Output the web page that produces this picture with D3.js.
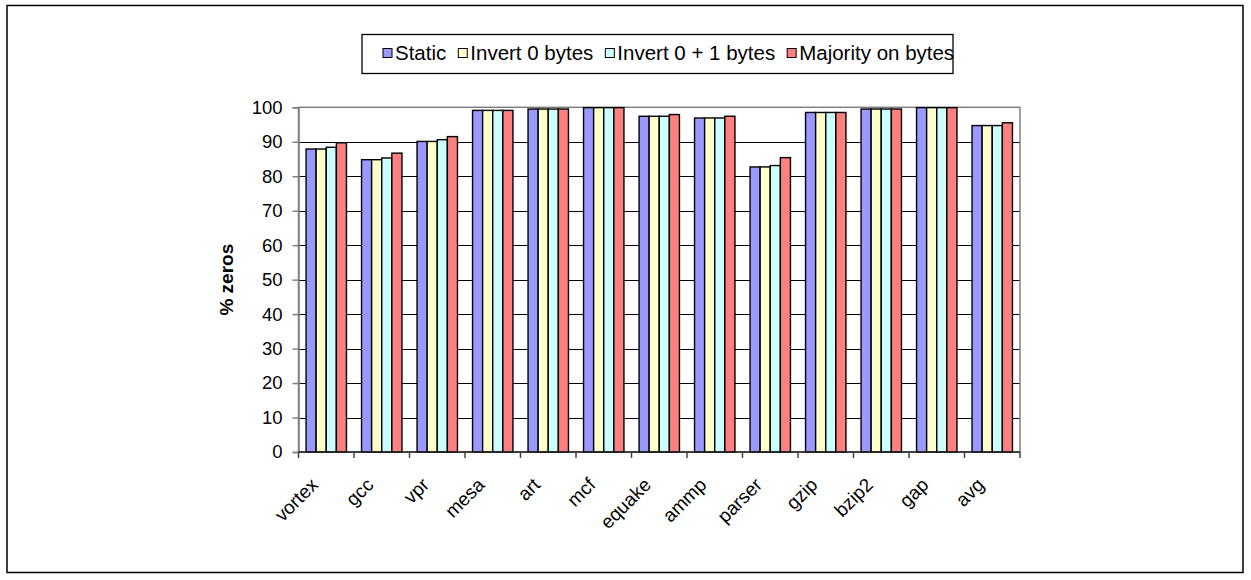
<!DOCTYPE html>
<html>
<head>
<meta charset="utf-8">
<script src="https://cdn.jsdelivr.net/npm/d3@7"></script>
<style>
  html, body { margin: 0; padding: 0; background: #fff; }
  svg { display: block; font-family: "Liberation Sans", Arial, sans-serif; }
</style>
</head>
<body>
<svg id="chart" width="1251" height="580"></svg>
<script>
// Benchmarks on the x axis
const categories = ["vortex", "gcc", "vpr", "mesa", "art", "mcf", "equake", "ammp", "parser", "gzip", "bzip2", "gap", "avg"];

// Series names (legend order)
const seriesNames = ["Static", "Invert 0 bytes", "Invert 0 + 1 bytes", "Majority on bytes"];

// Percentage of zero bits per benchmark, one array per encoding scheme
const staticVals   = [87.9, 84.8, 90.1, 99.1, 99.5, 99.9, 97.4, 96.9, 82.7, 98.5, 99.5, 99.9, 94.7];
const invert0Vals  = [87.9, 84.8, 90.1, 99.1, 99.5, 99.9, 97.4, 96.9, 82.7, 98.5, 99.5, 99.9, 94.7];
const invert01Vals = [88.4, 85.3, 90.6, 99.1, 99.5, 99.9, 97.4, 96.9, 83.1, 98.5, 99.5, 99.9, 94.7];
const majorityVals = [89.7, 86.7, 91.5, 99.1, 99.5, 99.9, 97.9, 97.4, 85.4, 98.5, 99.5, 99.9, 95.5];

// Y axis tick values
const yTicks = [0, 10, 20, 30, 40, 50, 60, 70, 80, 90, 100];

const seriesColors = ["#9999FF", "#FFFFCC", "#CCFFFF", "#FF8080"];
const seriesValues = [staticVals, invert0Vals, invert01Vals, majorityVals];

const svg = d3.select("#chart");

// Outer chart frame
svg.append("rect")
  .attr("x", 7).attr("y", 5.5)
  .attr("width", 1236).attr("height", 567)
  .attr("fill", "none").attr("stroke", "#000").attr("stroke-width", 1.5);

// Plot area geometry
const plot = { left: 298.5, right: 1020, top: 107.3, bottom: 452 };

const x = d3.scaleBand()
  .domain(categories)
  .range([plot.left, plot.right])
  .paddingInner(0.272)
  .paddingOuter(0.136);

const xs = d3.scaleBand()
  .domain(seriesNames)
  .range([0, x.bandwidth()]);

const y = d3.scaleLinear().domain([0, 100]).range([plot.bottom, plot.top]);

// Gridlines
svg.append("g")
  .selectAll("line")
  .data(yTicks.filter(t => t > 0 && t < 100))
  .join("line")
  .attr("x1", plot.left).attr("x2", plot.right)
  .attr("y1", d => Math.round(y(d)) + 0.5).attr("y2", d => Math.round(y(d)) + 0.5)
  .attr("stroke", "#000").attr("stroke-width", 1);

// Plot area border
svg.append("rect")
  .attr("x", plot.left).attr("y", y(100))
  .attr("width", plot.right - plot.left).attr("height", plot.bottom - y(100))
  .attr("fill", "none").attr("stroke", "#808080").attr("stroke-width", 1.5);

// Bars
const rows = categories.map((c, i) => ({ cat: c, vals: seriesValues.map(s => s[i]) }));
const groups = svg.append("g")
  .selectAll("g")
  .data(rows)
  .join("g")
  .attr("transform", d => `translate(${x(d.cat)},0)`);

groups.selectAll("rect")
  .data(d => d.vals.map((v, j) => ({ name: seriesNames[j], value: v, color: seriesColors[j] })))
  .join("rect")
  .attr("x", d => xs(d.name))
  .attr("y", d => y(d.value))
  .attr("width", xs.bandwidth())
  .attr("height", d => y(0) - y(d.value))
  .attr("fill", d => d.color)
  .attr("stroke", "#000")
  .attr("stroke-width", 1.4);

// Y axis
const yAxis = d3.axisLeft(y).tickValues(yTicks).tickSize(6).tickPadding(10).tickFormat(d3.format("d"));
const gy = svg.append("g").attr("transform", `translate(${plot.left},0)`).call(yAxis);
gy.select(".domain").attr("stroke", "#808080").attr("stroke-width", 1.5);
gy.selectAll(".tick line").attr("stroke", "#808080").attr("stroke-width", 1.5);
gy.selectAll(".tick text")
  .attr("font-size", "18.5px").attr("fill", "#000")
  .attr("font-family", "'Liberation Sans', Arial, sans-serif");

// X axis with boundary ticks between categories
const gx = svg.append("g").attr("transform", `translate(0,${plot.bottom})`);
gx.append("line")
  .attr("x1", plot.left).attr("x2", plot.right)
  .attr("y1", 0).attr("y2", 0)
  .attr("stroke", "#222").attr("stroke-width", 1.5);
const boundaries = categories.map(c => x(c) - x.step() * x.paddingInner() / 2).concat([plot.right]);
gx.selectAll("line.tk")
  .data(boundaries)
  .join("line")
  .attr("class", "tk")
  .attr("x1", d => d).attr("x2", d => d)
  .attr("y1", 0).attr("y2", 6)
  .attr("stroke", "#444").attr("stroke-width", 1.5);

gx.selectAll("text")
  .data(categories)
  .join("text")
  .attr("transform", d => `translate(${x(d) + x.bandwidth() / 2 - 7},${486 - plot.bottom}) rotate(-45)`)
  .attr("text-anchor", "end")
  .attr("font-size", "19px")
  .attr("fill", "#000")
  .text(d => d);

// Y axis title
svg.append("text")
  .attr("transform", `translate(233,${(plot.top + plot.bottom) / 2}) rotate(-90)`)
  .attr("text-anchor", "middle")
  .attr("font-size", "19px")
  .attr("font-weight", "bold")
  .text("% zeros");

// Legend
const legend = svg.append("g");
legend.append("rect")
  .attr("x", 362).attr("y", 34.5)
  .attr("width", 591).attr("height", 39)
  .attr("fill", "#fff").attr("stroke", "#000").attr("stroke-width", 1.3);

let lx = 383;
seriesNames.forEach((name, j) => {
  legend.append("rect")
    .attr("x", lx).attr("y", 48.5)
    .attr("width", 9).attr("height", 9)
    .attr("fill", seriesColors[j]).attr("stroke", "#000").attr("stroke-width", 1);
  const t = legend.append("text")
    .attr("x", lx + 12).attr("y", 59.5)
    .attr("font-size", "20.5px")
    .attr("fill", "#000")
    .text(name);
  lx += 12 + t.node().getComputedTextLength() + 12;
});
</script>
</body>
</html>
